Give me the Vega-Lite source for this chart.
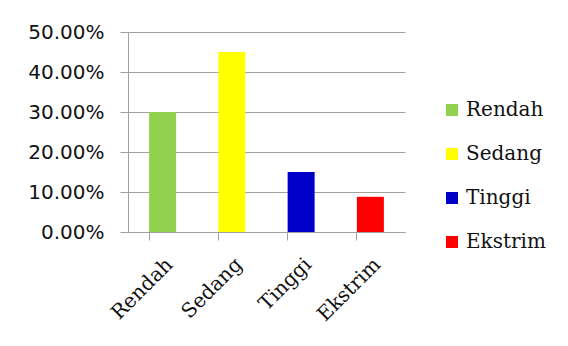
{
  "$schema": "https://vega.github.io/schema/vega-lite/v6.json",
  "width": 277,
  "height": 200,
  "autosize": {"type": "none"},
  "padding": {"left": 128, "top": 32, "right": 163, "bottom": 114},
  "background": "white",
  "data": {
    "values": [
      {"kategori": "Rendah", "persen": 0.30},
      {"kategori": "Sedang", "persen": 0.45},
      {"kategori": "Tinggi", "persen": 0.15},
      {"kategori": "Ekstrim", "persen": 0.088}
    ]
  },
  "mark": {"type": "bar"},
  "encoding": {
    "x": {
      "field": "kategori",
      "type": "nominal",
      "sort": ["Rendah", "Sedang", "Tinggi", "Ekstrim"],
      "scale": {"paddingInner": 0.61, "paddingOuter": 0.305},
      "axis": {
        "title": null,
        "labelAngle": -45,
        "labelFont": "DejaVu Serif",
        "labelFontSize": 20,
        "labelColor": "#111111",
        "bandPosition": 0,
        "tickSize": 8,
        "tickColor": "#a0a0a0",
        "domainColor": "#a0a0a0",
        "labelPadding": 14,
        "grid": false
      }
    },
    "y": {
      "field": "persen",
      "type": "quantitative",
      "scale": {"domain": [0, 0.5], "nice": false},
      "axis": {
        "title": null,
        "format": ".2%",
        "values": [0, 0.1, 0.2, 0.3, 0.4, 0.5],
        "labelFont": "DejaVu Sans",
        "labelFontSize": 20,
        "labelColor": "#111111",
        "labelPadding": 16,
        "tickSize": 8,
        "tickColor": "#a0a0a0",
        "domainColor": "#a0a0a0",
        "gridColor": "#a0a0a0",
        "gridOpacity": 1
      }
    },
    "color": {
      "field": "kategori",
      "type": "nominal",
      "scale": {
        "domain": ["Rendah", "Sedang", "Tinggi", "Ekstrim"],
        "range": ["#92D050", "#FFFF00", "#0000C8", "#FF0000"]
      },
      "legend": {
        "title": null,
        "orient": "none",
        "legendX": 314,
        "legendY": 68,
        "symbolType": "square",
        "symbolSize": 144,
        "symbolStrokeWidth": 0,
        "symbolOpacity": 1,
        "labelFont": "DejaVu Serif",
        "labelFontSize": 20,
        "labelColor": "#111111",
        "rowPadding": 24,
        "labelOffset": 4
      }
    }
  },
  "config": {"view": {"stroke": null}}
}
